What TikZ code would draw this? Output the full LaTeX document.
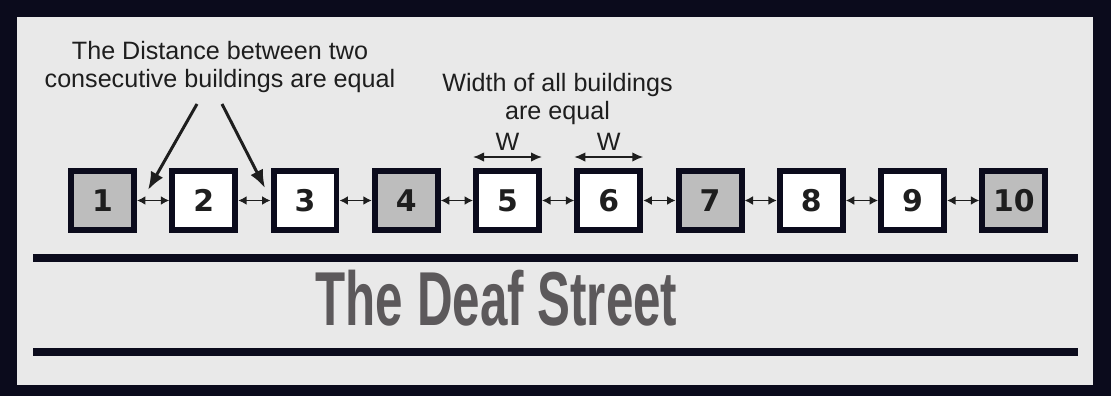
\documentclass[tikz,border=0pt]{standalone}
\usepackage{fontspec}
\setmainfont{Liberation Sans}
\newfontfamily\digitfont{DejaVu Sans}
\usetikzlibrary{arrows.meta,positioning}
\definecolor{frame}{HTML}{0B0B1C}
\definecolor{paper}{HTML}{E9E9E9}
\definecolor{ink}{HTML}{1E1E1E}
\definecolor{roof}{HTML}{BDBDBD}
\definecolor{asphalt}{HTML}{5C595B}

\begin{document}
\begin{tikzpicture}[
  x=0.02cm,y=0.02cm,
  node distance=6.46mm,
  house/.style={draw=frame,fill=white,line width=3.4pt,minimum width=12.6mm,minimum height=11.8mm,inner sep=0pt,font=\digitfont\bfseries\fontsize{17}{17}\selectfont,text=ink},
  shade/.style={house,fill=roof},
  note/.style={align=center,text=ink,font=\fontsize{14.3}{15.9}\selectfont},
  gap/.style={{Latex[length=1.7mm,width=1.8mm]}-{Latex[length=1.7mm,width=1.8mm]},line width=0.9pt,draw=ink},
  span/.style={{Latex[length=2.2mm,width=1.9mm]}-{Latex[length=2.2mm,width=1.9mm]},line width=0.9pt,draw=ink},
  pointer/.style={-{Latex[length=3.6mm,width=2.8mm]},line width=1.7pt,draw=ink},
  street/.style={line width=4pt,draw=frame}
]
% frame and paper
\fill[frame] (0,0) rectangle (1111,396);
\fill[paper] (17,11) rectangle (1093,379);

% buildings
\node[shade] (b1) at (102.5,195.5) {1};
\node[house,right=of b1] (b2) {2};
\node[house,right=of b2] (b3) {3};
\node[shade,right=of b3] (b4) {4};
\node[house,right=of b4] (b5) {5};
\node[house,right=of b5] (b6) {6};
\node[shade,right=of b6] (b7) {7};
\node[house,right=of b7] (b8) {8};
\node[house,right=of b8] (b9) {9};
\node[shade,right=of b9] (b10) {10};

\draw[gap] (b1) -- (b2);
\draw[gap] (b2) -- (b3);
\draw[gap] (b3) -- (b4);
\draw[gap] (b4) -- (b5);
\draw[gap] (b5) -- (b6);
\draw[gap] (b6) -- (b7);
\draw[gap] (b7) -- (b8);
\draw[gap] (b8) -- (b9);
\draw[gap] (b9) -- (b10);

% notes
\node[note] (dist) at (220,329) {The Distance between two\\consecutive buildings are equal};
\node[note] (wnote) at (557.5,297) {Width of all buildings\\are equal};

\coordinate (t1) at (197,292);
\coordinate (h1) at (148,206);
\coordinate (t2) at (222,292);
\coordinate (h2) at (265,208);
\draw[pointer] (t1) -- (h1);
\draw[pointer] (t2) -- (h2);

\draw[span] ([yshift=2.2mm]b5.north west) -- ([yshift=2.2mm]b5.north east)
  node[note,midway,above=0pt] (w5) {W};
\draw[span] ([yshift=2.2mm]b6.north west) -- ([yshift=2.2mm]b6.north east)
  node[note,midway,above=0pt] (w6) {W};

% street
\coordinate (s1) at (33,138);
\coordinate (e1) at (1078,138);
\coordinate (s2) at (33,44);
\coordinate (e2) at (1078,44);
\draw[street] (s1) -- (e1);
\draw[street] (s2) -- (e2);
\node[font=\bfseries\fontsize{43.5}{50}\selectfont,text=asphalt,xscale=0.645] (title) at (496.5,98) {The Deaf Street};
\end{tikzpicture}
\end{document}
